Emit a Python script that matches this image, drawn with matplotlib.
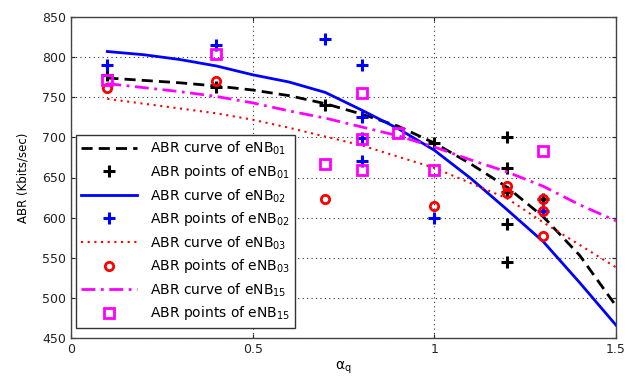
import matplotlib
matplotlib.use("Agg")
import matplotlib.pyplot as plt

plt.rcParams['font.family'] = ['DejaVu Sans']
plt.rcParams['mathtext.fontset'] = 'dejavusans'

# curve data
curve_x = [0.1, 0.2, 0.3, 0.4, 0.5, 0.6, 0.7, 0.8, 0.9, 1.0, 1.1, 1.2, 1.3, 1.4, 1.5]
curve_01 = [774, 771, 768, 764, 759, 752, 742, 729, 714, 693, 667, 638, 601, 553, 490]
curve_02 = [807, 803, 797, 789, 778, 769, 756, 734, 711, 684, 649, 610, 570, 519, 466]
curve_03 = [748, 742, 736, 730, 722, 712, 701, 690, 676, 662, 643, 624, 594, 566, 538]
curve_15 = [767, 762, 757, 751, 743, 733, 724, 713, 702, 688, 672, 657, 639, 616, 596]

# measured points
pts01_x = [0.1, 0.4, 0.7, 1.0, 1.2, 1.2, 1.2, 1.2, 1.2, 1.3]
pts01_y = [778, 763, 740, 693, 701, 662, 632, 592, 545, 623]
pts02_x = [0.1, 0.4, 0.7, 0.8, 0.8, 0.8, 0.8, 1.0, 1.3]
pts02_y = [790, 815, 822, 790, 726, 699, 670, 600, 608]
pts03_x = [0.1, 0.4, 0.7, 1.0, 1.2, 1.2, 1.3, 1.3, 1.3]
pts03_y = [762, 770, 623, 615, 639, 631, 623, 608, 577]
pts15_x = [0.1, 0.4, 0.7, 0.8, 0.8, 0.8, 0.9, 1.0, 1.3]
pts15_y = [771, 804, 667, 755, 698, 659, 706, 659, 683]

x_ticks = [0, 0.5, 1, 1.5]
x_tick_labels = ['0', '0.5', '1', '1.5']
y_ticks = [450, 500, 550, 600, 650, 700, 750, 800, 850]

fig = plt.figure(figsize=(6.26, 3.81), dpi=100)
ax = fig.add_axes([71/626, 43/381, 545/626, 321/381])

ax.plot(curve_x, curve_01, color='black', ls=(0, (4, 2.2)), lw=2, label=r'ABR curve of eNB$_{01}$')
ax.plot(pts01_x, pts01_y, ls='none', marker='+', ms=8, mew=2.2, color='black', label=r'ABR points of eNB$_{01}$')
ax.plot(curve_x, curve_02, color='#0000ff', ls='-', lw=2, label=r'ABR curve of eNB$_{02}$')
ax.plot(pts02_x, pts02_y, ls='none', marker='+', ms=8, mew=2.2, color='#0000ff', label=r'ABR points of eNB$_{02}$')
ax.plot(curve_x, curve_03, color='#ff0000', ls=(0, (1, 2.2)), lw=1.5, label=r'ABR curve of eNB$_{03}$')
ax.plot(pts03_x, pts03_y, ls='none', marker='o', ms=6, mew=2, mfc='none', color='#ff0000', label=r'ABR points of eNB$_{03}$')
ax.plot(curve_x, curve_15, color='#ff00ff', ls=(0, (5, 2, 1, 2)), lw=2, label=r'ABR curve of eNB$_{15}$')
ax.plot(pts15_x, pts15_y, ls='none', marker='s', ms=7, mew=2, mfc='none', color='#ff00ff', label=r'ABR points of eNB$_{15}$')

ax.set_xlim(0, 1.5)
ax.set_ylim(450, 850)
ax.set_xticks(x_ticks)
ax.set_xticklabels(x_tick_labels)
ax.set_yticks(y_ticks)
ax.tick_params(direction='in', length=3, labelsize=9, top=True, right=True, colors='#222222')
ax.grid(True, color='#333333', ls=(0, (1, 3)), lw=0.8)
for s in ax.spines.values():
    s.set_color('#444444')
    s.set_linewidth(1)

ax.set_xlabel(r'$\mathregular{\alpha_q}$', fontsize=10, labelpad=3)
ax.set_ylabel('ABR (Kbits/sec)', fontsize=8.5, labelpad=9)

leg = ax.legend(loc='lower left', bbox_to_anchor=(0.009, 0.031), fontsize=10,
                frameon=True, fancybox=False, edgecolor='#333333', framealpha=1,
                borderaxespad=0, labelspacing=0.42, handlelength=4.0, handletextpad=0.9,
                borderpad=0.4)
leg.get_frame().set_linewidth(1)

fig.savefig('out.png', dpi=100)
